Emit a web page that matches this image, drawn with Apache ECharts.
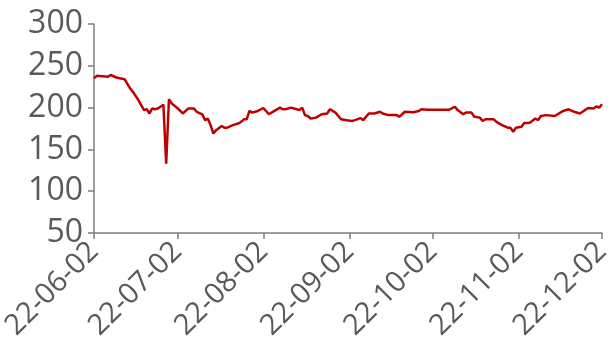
<!DOCTYPE html>
<html>
<head>
<meta charset="utf-8">
<script src="https://cdn.jsdelivr.net/npm/echarts@6/dist/echarts.min.js"></script>
<style>html,body{margin:0;padding:0;background:#fff;}#c{width:611px;height:351px;}</style>
</head>
<body>
<div id="c"></div>
<script>
var startDate = '2022-06-02';
var endDate = '2022-12-02';
var yTicks = [50, 100, 150, 200, 250, 300];

var dates = [
'2022-06-02','2022-06-03','2022-06-05','2022-06-07','2022-06-08','2022-06-10','2022-06-13','2022-06-15','2022-06-16','2022-06-18',
'2022-06-20','2022-06-21','2022-06-22','2022-06-23','2022-06-24','2022-06-25','2022-06-27','2022-06-28','2022-06-29','2022-06-30',
'2022-07-02','2022-07-04','2022-07-06','2022-07-08','2022-07-09','2022-07-11','2022-07-12','2022-07-13','2022-07-14','2022-07-15',
'2022-07-16','2022-07-18','2022-07-19','2022-07-20','2022-07-22','2022-07-24','2022-07-25','2022-07-26','2022-07-27','2022-07-28',
'2022-07-29','2022-07-31','2022-08-02','2022-08-04','2022-08-06','2022-08-08','2022-08-09','2022-08-10','2022-08-12','2022-08-14',
'2022-08-15','2022-08-16','2022-08-17','2022-08-18','2022-08-19','2022-08-21','2022-08-23','2022-08-25','2022-08-26','2022-08-28',
'2022-08-29','2022-08-30','2022-09-01','2022-09-03','2022-09-04','2022-09-06','2022-09-07','2022-09-09','2022-09-11','2022-09-13',
'2022-09-14','2022-09-16','2022-09-19','2022-09-20','2022-09-22','2022-09-25','2022-09-27','2022-09-28','2022-09-30','2022-10-08',
'2022-10-10','2022-10-11','2022-10-13','2022-10-14','2022-10-16','2022-10-17','2022-10-19','2022-10-20','2022-10-21','2022-10-24',
'2022-10-25','2022-10-27','2022-10-29','2022-10-30','2022-10-31','2022-11-01','2022-11-03','2022-11-04','2022-11-06','2022-11-08',
'2022-11-09','2022-11-10','2022-11-12','2022-11-15','2022-11-18','2022-11-20','2022-11-22','2022-11-24','2022-11-25','2022-11-27',
'2022-11-29','2022-11-30','2022-12-01','2022-12-02'
];
var values = [
235,238,237.5,237,239,236,234,223,219,209,
197,198,193,199,198,199,203.5,133,210,205,
199.5,193,199,199,195,192,185,187,179,169,
173,178,176,176,179,181,183,186,186,196,
194,196,199.5,192,196,200,198,198,200,198,
197,200,191,190,187,188,192,193,198,194,
190,186,185,184,185,187.5,185,193,193,195,
193,191,191,189,195,194.5,196,198,197.5,197.5,
201,197,192,194,194,189,188,184,186,186,
183,179,176,176,171,176,177,181.5,182,187,
185,190,191,190,196,198,195,193,195,199.5,
199,201.5,200,204
];

function fmt(d) {
  var m = d.getMonth() + 1, day = d.getDate();
  return d.getFullYear() + '-' + (m < 10 ? '0' : '') + m + '-' + (day < 10 ? '0' : '') + day;
}
var categories = [];
(function () {
  var d = new Date(startDate + 'T00:00:00');
  var e = new Date(endDate + 'T00:00:00');
  while (d <= e) { categories.push(fmt(d)); d.setDate(d.getDate() + 1); }
})();
var seriesData = dates.map(function (s, i) { return [categories.indexOf(s), values[i]]; });

function isMonthTick(idx, val) { return val.slice(8) === '02'; }

var chart = echarts.init(document.getElementById('c'), null, {renderer: 'canvas'});
chart.setOption({
  animation: false,
  grid: {left: 94, right: 9, top: 24, bottom: 118, containLabel: false, outerBoundsMode: 'none'},
  xAxis: {
    type: 'category',
    data: categories,
    boundaryGap: false,
    axisLine: {lineStyle: {color: '#7f7f7f', width: 1.5}},
    axisTick: {show: true, interval: isMonthTick, length: 6, lineStyle: {color: '#7f7f7f', width: 1.5}},
    axisLabel: {
      interval: isMonthTick,
      rotate: 45,
      margin: 14,
      fontSize: 29,
      color: '#595959',
      fontFamily: 'Open Sans',
      formatter: function (v) { return v.slice(2); }
    }
  },
  yAxis: {
    type: 'value',
    min: yTicks[0],
    max: yTicks[yTicks.length - 1],
    interval: 50,
    splitLine: {show: false},
    axisLine: {show: true, lineStyle: {color: '#7f7f7f', width: 1.5}},
    axisTick: {show: true, length: 6, lineStyle: {color: '#7f7f7f', width: 1.5}},
    axisLabel: {fontSize: 32, color: '#595959', fontFamily: 'Open Sans', margin: 11}
  },
  series: [{
    type: 'line',
    data: seriesData,
    showSymbol: false,
    symbol: 'none',
    lineStyle: {color: '#C00000', width: 2.5},
    itemStyle: {color: '#C00000'}
  }]
});
</script>
</body>
</html>
